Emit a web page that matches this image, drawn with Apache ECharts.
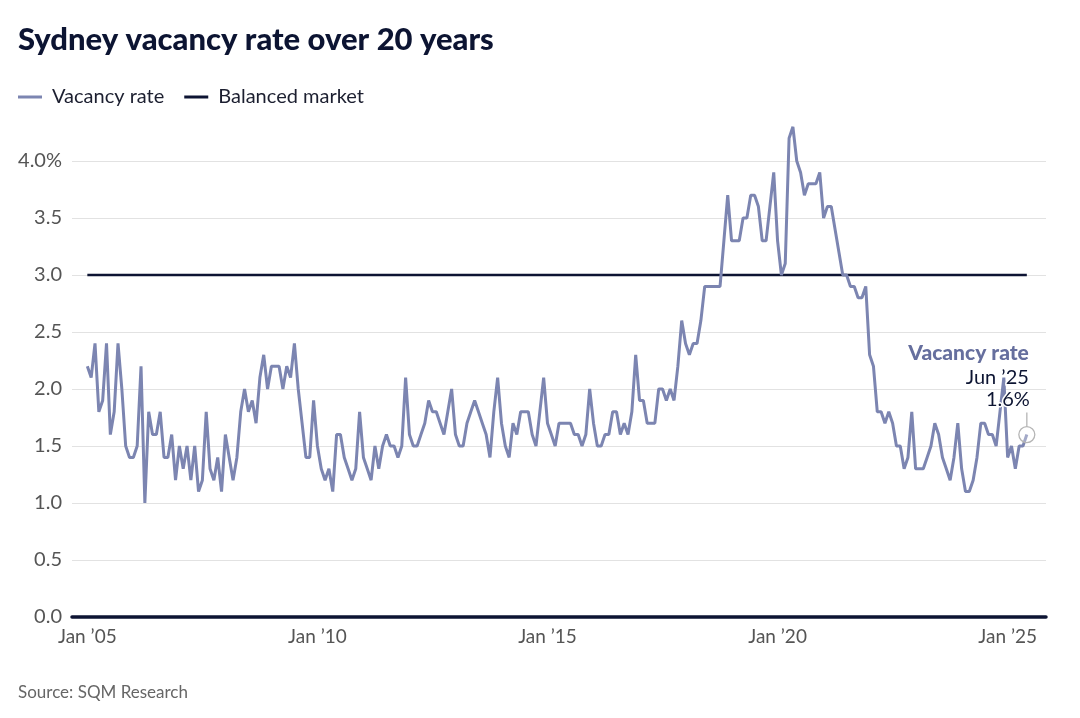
<!DOCTYPE html>
<html>
<head>
<meta charset="utf-8">
<title>Sydney vacancy rate over 20 years</title>
<script src="https://cdn.jsdelivr.net/npm/echarts@6/dist/echarts.min.js"></script>
<style>
  html, body { margin: 0; padding: 0; background: #fff; }
  #chart { width: 1080px; height: 718px; }
</style>
</head>
<body>
<div id="chart"></div>
<script>
// monthly values, index 0 = Jan 2005, last = Jun 2025
var vacancyRate = [
  2.2, 2.1, 2.4, 1.8, 1.9, 2.4, 1.6, 1.8, 2.4, 2.0,
  1.5, 1.4, 1.4, 1.5, 2.2, 1.0, 1.8, 1.6, 1.6, 1.8,
  1.4, 1.4, 1.6, 1.2, 1.5, 1.3, 1.5, 1.2, 1.5, 1.1,
  1.2, 1.8, 1.3, 1.2, 1.4, 1.1, 1.6, 1.4, 1.2, 1.4,
  1.8, 2.0, 1.8, 1.9, 1.7, 2.1, 2.3, 2.0, 2.2, 2.2,
  2.2, 2.0, 2.2, 2.1, 2.4, 2.0, 1.7, 1.4, 1.4, 1.9,
  1.5, 1.3, 1.2, 1.3, 1.1, 1.6, 1.6, 1.4, 1.3, 1.2,
  1.3, 1.8, 1.4, 1.3, 1.2, 1.5, 1.3, 1.5, 1.6, 1.5,
  1.5, 1.4, 1.5, 2.1, 1.6, 1.5, 1.5, 1.6, 1.7, 1.9,
  1.8, 1.8, 1.7, 1.6, 1.8, 2.0, 1.6, 1.5, 1.5, 1.7,
  1.8, 1.9, 1.8, 1.7, 1.6, 1.4, 1.8, 2.1, 1.7, 1.5,
  1.4, 1.7, 1.6, 1.8, 1.8, 1.8, 1.6, 1.5, 1.8, 2.1,
  1.7, 1.6, 1.5, 1.7, 1.7, 1.7, 1.7, 1.6, 1.6, 1.5,
  1.6, 2.0, 1.7, 1.5, 1.5, 1.6, 1.6, 1.8, 1.8, 1.6,
  1.7, 1.6, 1.8, 2.3, 1.9, 1.9, 1.7, 1.7, 1.7, 2.0,
  2.0, 1.9, 2.0, 1.9, 2.2, 2.6, 2.4, 2.3, 2.4, 2.4,
  2.6, 2.9, 2.9, 2.9, 2.9, 2.9, 3.3, 3.7, 3.3, 3.3,
  3.3, 3.5, 3.5, 3.7, 3.7, 3.6, 3.3, 3.3, 3.6, 3.9,
  3.3, 3.0, 3.1, 4.2, 4.3, 4.0, 3.9, 3.7, 3.8, 3.8,
  3.8, 3.9, 3.5, 3.6, 3.6, 3.4, 3.2, 3.0, 3.0, 2.9,
  2.9, 2.8, 2.8, 2.9, 2.3, 2.2, 1.8, 1.8, 1.7, 1.8,
  1.7, 1.5, 1.5, 1.3, 1.4, 1.8, 1.3, 1.3, 1.3, 1.4,
  1.5, 1.7, 1.6, 1.4, 1.3, 1.2, 1.4, 1.7, 1.3, 1.1,
  1.1, 1.2, 1.4, 1.7, 1.7, 1.6, 1.6, 1.5, 1.8, 2.1,
  1.4, 1.5, 1.3, 1.5, 1.5, 1.6
];
var balancedLevel = 3.0;

// x ticks (month index) and their labels
var xTickMonths = [0, 60, 120, 180, 240];
var xTickLabels = ["Jan ’05", "Jan ’10", "Jan ’15", "Jan ’20", "Jan ’25"];
var lastLabel = "Jun ’25";

var FONT = "Lato, 'Open Sans', sans-serif";
var NAVY = "#0d1433";
var LAVENDER = "#7c85b1";

var chart = echarts.init(document.getElementById("chart"), null, { renderer: "canvas" });

chart.setOption({
  animation: false,
  backgroundColor: "#fff",
  textStyle: { fontFamily: FONT },
  title: {
    text: "Sydney vacancy rate over 20 years",
    left: 13,
    top: 19,
    textStyle: { fontFamily: FONT, fontSize: 31, fontWeight: 900, color: "#0c1432" }
  },
  legend: {
    left: 13,
    top: 82,
    icon: "rect",
    itemWidth: 24,
    itemHeight: 3,
    itemGap: 20,
    textStyle: { fontFamily: FONT, fontSize: 20, color: "#1c1f30", padding: [0, 0, 0, 5] },
    data: ["Vacancy rate", "Balanced market"]
  },
  grid: { left: 72, right: 34, top: 161, bottom: 101 },
  xAxis: {
    type: "value",
    min: -4,
    max: 250,
    axisLine: { show: true, lineStyle: { color: NAVY, width: 3.5 } },
    axisTick: { show: false },
    splitLine: { show: false },
    axisLabel: {
      customValues: xTickMonths,
      formatter: function (v) { return xTickLabels[xTickMonths.indexOf(v)]; },
      color: "#555",
      fontFamily: FONT,
      fontSize: 19,
      margin: 10
    }
  },
  yAxis: {
    type: "value",
    min: 0,
    max: 4,
    interval: 0.5,
    axisLine: { show: false },
    axisTick: { show: false },
    splitLine: { lineStyle: { color: "#e2e2e2", width: 1 } },
    axisLabel: {
      formatter: function (v) { return v === 4 ? "4.0%" : v.toFixed(1); },
      color: "#555",
      fontFamily: FONT,
      fontSize: 20,
      margin: 10
    }
  },
  series: [
    {
      name: "Balanced market",
      type: "line",
      symbol: "none",
      data: vacancyRate.map(function (v, i) { return [i, balancedLevel]; }),
      lineStyle: { color: NAVY, width: 2.5 },
      itemStyle: { color: NAVY },
      z: 2
    },
    {
      name: "Vacancy rate",
      type: "line",
      symbol: "none",
      clip: false,
      data: vacancyRate.map(function (v, i) { return [i, v]; }),
      lineStyle: { color: LAVENDER, width: 3 },
      itemStyle: { color: LAVENDER },
      z: 3
    }
  ]
});

// end-of-line annotation placed from the last data point
var lastIdx = vacancyRate.length - 1;
var p = chart.convertToPixel({ gridIndex: 0 }, [lastIdx, vacancyRate[lastIdx]]);
var halo = { stroke: "#fff", lineWidth: 3 };

chart.setOption({
  graphic: [
    {
      type: "text",
      left: 18,
      top: 684,
      style: { text: "Source: SQM Research", font: "17px " + FONT, fill: "#666" }
    },
    {
      type: "circle",
      shape: { cx: p[0], cy: p[1], r: 8 },
      style: { fill: "rgba(255,255,255,0.3)", stroke: "#b5b5b5", lineWidth: 1.3 },
      z: 10
    },
    {
      type: "line",
      shape: { x1: p[0], y1: p[1] - 22, x2: p[0], y2: p[1] - 8 },
      style: { stroke: "#b5b5b5", lineWidth: 1.3 },
      z: 10
    },
    {
      type: "text",
      x: p[0] + 3,
      y: p[1] - 35,
      style: Object.assign({ text: vacancyRate[lastIdx].toFixed(1) + "%", font: "20px " + FONT, fill: "#0c1432", align: "right", verticalAlign: "middle" }, halo),
      z: 11
    },
    {
      type: "text",
      x: p[0] + 2,
      y: p[1] - 57,
      style: Object.assign({ text: lastLabel, font: "20px " + FONT, fill: "#0c1432", align: "right", verticalAlign: "middle" }, halo),
      z: 11
    },
    {
      type: "text",
      x: p[0] + 2,
      y: p[1] - 81,
      style: Object.assign({ text: "Vacancy rate", font: "900 21px " + FONT, fill: "#666f9e", align: "right", verticalAlign: "middle" }, halo),
      z: 11
    }
  ]
});
</script>
</body>
</html>
